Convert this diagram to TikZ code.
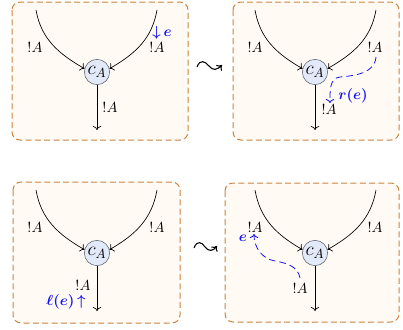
\documentclass[tikz,border=0pt]{standalone}
\usepackage{amssymb}
\usepackage{xcolor}
\usetikzlibrary{positioning,arrows.meta}
\definecolor{boxedge}{HTML}{CD8440}
\definecolor{boxfill}{HTML}{FFFAF3}
\definecolor{ctrfill}{HTML}{E2E9F8}
\definecolor{ctredge}{HTML}{5A5F6A}
\definecolor{tokblue}{HTML}{1414F5}

\tikzset{
  panel/.style={draw=boxedge, fill=boxfill, line width=0.75pt, dash pattern=on 4.5pt off 2.5pt, rounded corners=6pt},
  ctr/.style={circle, draw=ctredge, fill=ctrfill, minimum size=19pt, inner sep=0pt, font=\Large},
  wire/.style={-{To[length=3pt]}, line width=0.5pt},
  lbl/.style={font=\fontsize{11}{13}\selectfont},
  tokpath/.style={tokblue, line width=0.6pt, dash pattern=on 5pt off 3pt, -{To[length=3pt]}},
  tok/.style={tokblue, font=\fontsize{11}{13}\selectfont\boldmath},
  rewrite/.style={line width=0.8pt, -{To[length=3.5pt, width=6pt]}}
}

\begin{document}
\begin{tikzpicture}[x=0.75pt, y=0.75pt]
    \useasboundingbox (0,0) rectangle (403,-329);

    % top left
    \draw[panel] (12,-2) rectangle (188,-140);
    \node[ctr] (c1) at (97,-72) {$c_A$};
    \coordinate (c1l) at (36,-10);
    \coordinate (c1r) at (157,-10);
    \coordinate (c1o) at (97,-130);
    \draw[wire] (c1l) to[out=-80, in=150] (c1.165);
    \draw[wire] (c1r) to[out=-100, in=30] (c1.15);
    \draw[wire] (c1) -- (c1o);
    \node[lbl] (l1l) at (35,-47) {$!A$};
    \node[lbl] (l1r) at (157,-47) {$!A$};
    \node[lbl] (l1o) at (110,-107) {$!A$};
    \node[tok] (t1) at (162,-33) {${\downarrow}\,e$};

    % rewrite arrows
    \coordinate (sq1a) at (197,-67);
    \coordinate (sq1b) at (222,-65);
    \draw[rewrite] (sq1a) .. controls (200,-59) and (205,-61) .. (209,-66)
      .. controls (213,-71) and (217,-70) .. (sq1b);
    \coordinate (sq2a) at (194,-248);
    \coordinate (sq2b) at (217,-246);
    \draw[rewrite] (sq2a) .. controls (197,-240) and (202,-242) .. (205,-247)
      .. controls (209,-252) and (213,-251) .. (sq2b);

    % top right
    \draw[panel] (233,-2) rectangle (399,-140);
    \node[ctr] (c2) at (315,-72) {$c_A$};
    \coordinate (c2l) at (255,-10);
    \coordinate (c2r) at (376,-10);
    \coordinate (c2o) at (315,-130);
    \draw[wire] (c2l) to[out=-80, in=150] (c2.165);
    \draw[wire] (c2r) to[out=-100, in=30] (c2.15);
    \draw[wire] (c2) -- (c2o);
    \node[lbl] (l2l) at (255,-47) {$!A$};
    \node[lbl] (l2r) at (375,-47) {$!A$};
    \node[lbl] (l2o) at (329,-109) {$!A$};
    \coordinate (p2a) at (376,-57);
    \coordinate (p2b) at (340,-77);
    \coordinate (p2c) at (330,-103);
    \draw[tokpath] (p2a) to[out=-95, in=5] (p2b) to[out=185, in=90] (p2c);
    \node[tok] (t2) at (353,-96) {$r(e)$};

    % bottom left
    \draw[panel] (13,-182) rectangle (180,-323);
    \node[ctr] (c3) at (97,-253) {$c_A$};
    \coordinate (c3l) at (36,-190);
    \coordinate (c3r) at (157,-190);
    \coordinate (c3o) at (97,-311);
    \draw[wire] (c3l) to[out=-80, in=150] (c3.165);
    \draw[wire] (c3r) to[out=-100, in=30] (c3.15);
    \draw[wire] (c3) -- (c3o);
    \node[lbl] (l3l) at (35,-227) {$!A$};
    \node[lbl] (l3r) at (157,-227) {$!A$};
    \node[lbl] (l3o) at (83,-285) {$!A$};
    \node[tok] (t3) at (66,-302) {$\ell(e)\,{\uparrow}$};

    % bottom right
    \draw[panel] (225,-183) rectangle (399,-322);
    \node[ctr] (c4) at (315,-253) {$c_A$};
    \coordinate (c4l) at (255,-190);
    \coordinate (c4r) at (376,-190);
    \coordinate (c4o) at (315,-311);
    \draw[wire] (c4l) to[out=-80, in=150] (c4.165);
    \draw[wire] (c4r) to[out=-100, in=30] (c4.15);
    \draw[wire] (c4) -- (c4o);
    \node[lbl] (l4l) at (255,-227) {$!A$};
    \node[lbl] (l4r) at (375,-227) {$!A$};
    \node[lbl] (l4o) at (300,-288) {$!A$};
    \coordinate (p4a) at (300,-278);
    \coordinate (p4b) at (275,-261);
    \coordinate (p4c) at (254,-234);
    \draw[tokpath] (p4a) to[out=100, in=-10] (p4b) to[out=170, in=-90] (p4c);
    \node[tok] (t4) at (243,-238) {$e$};
\end{tikzpicture}
\end{document}
